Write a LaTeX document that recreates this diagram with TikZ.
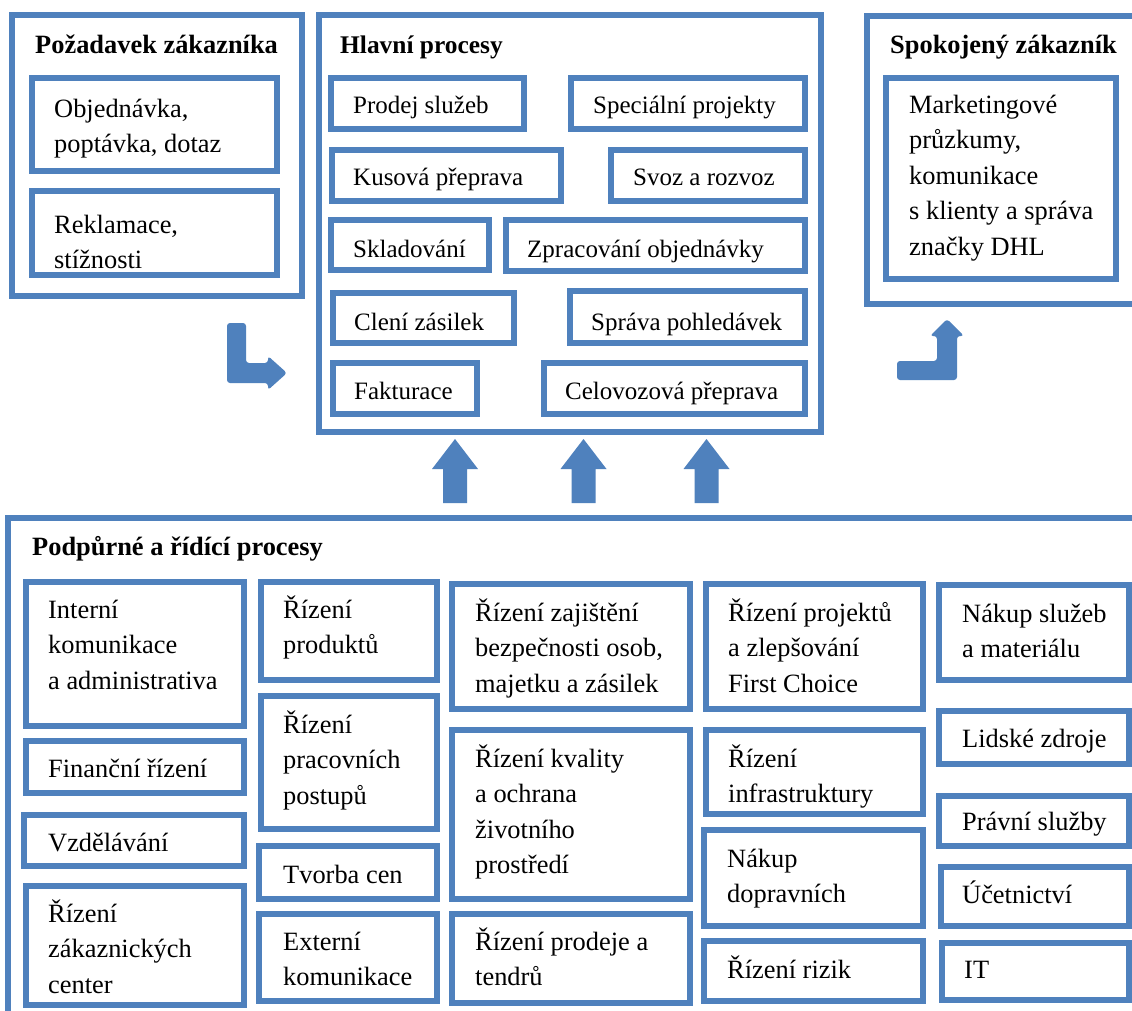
\documentclass[tikz,border=0pt]{standalone}
\usepackage{fontspec}
\setmainfont{Liberation Serif}
\definecolor{obl}{HTML}{4F81BD}
\tikzset{
  box/.style={draw=obl, line width=5.8pt, inner sep=0pt, outer sep=0pt},
  lbl/.style={anchor=base west, inner sep=0pt, font=\fontsize{26.4}{35.5}\selectfont},
  hlbl/.style={lbl, font=\fontsize{25}{35}\selectfont},
  ttl/.style={anchor=base west, inner sep=0pt, font=\fontsize{26.4}{32}\selectfont\bfseries},
  blk/.style={fill=obl, draw=none},
}
\newcommand{\bx}[5]{\node[box,anchor=north west,minimum width={(#4-#2)*1pt},minimum height={(#5-#3)*1pt}] (#1) at (#2,#3) {};}
\newcommand{\tx}[5][lbl]{\node[#1] (#2) at (#3,#4) {\begin{tabular}[t]{@{}l@{}}#5\end{tabular}};}
\begin{document}
\begin{tikzpicture}[x=1pt,y=-1pt]
\useasboundingbox (0,0) rectangle (1132,1010);
\fill[white] (0,0) rectangle (1132,1010);

% outer frames
\bx{pozad}{12}{15}{302}{296}
\bx{hlavni}{319}{15}{821}{432}
\bx{spokoj}{867}{16}{1142}{304}
\bx{podpur}{8}{518}{1142}{1022}

\node[ttl] (t-pozad) at (35,53) {Požadavek zákazníka};
\node[ttl,font=\fontsize{25.4}{32}\selectfont\bfseries] (t-hlavni) at (340,53) {Hlavní procesy};
\node[ttl] (t-spokoj) at (890,53) {Spokojený zákazník};
\node[ttl] (t-podpur) at (32,555) {Podpůrné a řídící procesy};

% Požadavek zákazníka
\bx{a1}{32}{78}{277}{171}
\tx{ta1}{54}{117}{Objednávka,\\poptávka, dotaz}
\bx{a2}{32}{191}{277}{275}
\tx{ta2}{54}{233}{Reklamace,\\stížnosti}

% Hlavní procesy
\bx{h1}{331}{78}{524}{129}   \tx[hlbl]{th1}{353}{113}{Prodej služeb}
\bx{h2}{571}{78}{805}{129}   \tx[hlbl]{th2}{593}{113}{Speciální projekty}
\bx{h3}{332}{150}{561}{201}  \tx[hlbl]{th3}{353}{185}{Kusová přeprava}
\bx{h4}{611}{150}{805}{201}  \tx[hlbl]{th4}{633}{185}{Svoz a rozvoz}
\bx{h5}{331}{220}{489}{270}  \tx[hlbl]{th5}{353}{257}{Skladování}
\bx{h6}{506}{220}{805}{271}  \tx[hlbl]{th6}{527}{257}{Zpracování objednávky}
\bx{h7}{333}{293}{514}{343}  \tx[hlbl]{th7}{354}{330}{Clení zásilek}
\bx{h8}{570}{291}{805}{343}  \tx[hlbl]{th8}{591}{330}{Správa pohledávek}
\bx{h9}{333}{363}{477}{414}  \tx[hlbl]{th9}{354}{399}{Fakturace}
\bx{h10}{544}{363}{805}{414} \tx[hlbl]{th10}{565}{399}{Celovozová přeprava}

% Spokojený zákazník
\bx{s1}{886}{78}{1116}{279}
\tx{ts1}{909}{113}{Marketingové\\průzkumy,\\komunikace\\s klienty a správa\\značky DHL}

% Podpůrné a řídící procesy
\bx{b1}{26}{582}{244}{726}   \tx{tb1}{48}{618}{Interní\\komunikace\\a administrativa}
\bx{b2}{26}{741}{244}{793}   \tx{tb2}{48}{777}{Finanční řízení}
\bx{b3}{24}{815}{244}{866}   \tx{tb3}{48}{851}{Vzdělávání}
\bx{b4}{26}{886}{244}{1005}  \tx{tb4}{48}{922}{Řízení\\zákaznických\\center}

\bx{c1}{261}{582}{437}{680}  \tx{tc1}{283}{618}{Řízení\\produktů}
\bx{c2}{261}{696}{437}{829}  \tx{tc2}{283}{733}{Řízení\\pracovních\\postupů}
\bx{c3}{259}{846}{437}{899}  \tx{tc3}{283}{883}{Tvorba cen}
\bx{c4}{259}{914}{437}{1001} \tx{tc4}{283}{950}{Externí\\komunikace}

\bx{d1}{452}{584}{690}{709}  \tx{td1}{475}{621}{Řízení zajištění\\bezpečnosti osob,\\majetku a zásilek}
\bx{d2}{452}{730}{690}{899}  \tx{td2}{475}{767}{Řízení kvality\\a ochrana\\životního\\prostředí}
\bx{d3}{452}{914}{690}{1003} \tx{td3}{475}{950}{Řízení prodeje a\\tendrů}

\bx{e1}{706}{584}{923}{709}  \tx{te1}{728}{621}{Řízení projektů\\a zlepšování\\First Choice}
\bx{e2}{706}{730}{923}{814}  \tx{te2}{728}{767}{Řízení\\infrastruktury}
\bx{e3}{704}{830}{923}{926}  \tx{te3}{727}{867}{Nákup\\dopravních}
\bx{e4}{704}{941}{923}{1001} \tx{te4}{727}{978}{Řízení rizik}

\bx{f1}{939}{585}{1129}{680}  \tx{tf1}{962}{622}{Nákup služeb\\a materiálu}
\bx{f2}{939}{711}{1129}{764}  \tx{tf2}{962}{747}{Lidské zdroje}
\bx{f3}{939}{796}{1129}{846}  \tx{tf3}{962}{830}{Právní služby}
\bx{f4}{941}{867}{1129}{926}  \tx{tf4}{962}{903}{Účetnictví}
\bx{f5}{942}{943}{1129}{1000} \tx{tf5}{964}{978}{IT}

% block arrows
\fill[blk, rounded corners=3pt] (227,323) -- (246,323) -- (246,363) -- (268,363) -- (268,356)
  -- (287,373) -- (268,390) -- (268,383) -- (227,383) -- cycle;
\fill[blk, rounded corners=3pt] (897,361) -- (937,361) -- (937,336) -- (930,336) -- (947,319)
  -- (964,336) -- (957,336) -- (957,380) -- (897,380) -- cycle;
\foreach \cx in {455,583.5,706.5}{
  \fill[blk] (\cx-12,503) -- (\cx-12,469) -- (\cx-23,469) -- (\cx,439) -- (\cx+23,469)
    -- (\cx+12,469) -- (\cx+12,503) -- cycle;
}
\end{tikzpicture}
\end{document}
